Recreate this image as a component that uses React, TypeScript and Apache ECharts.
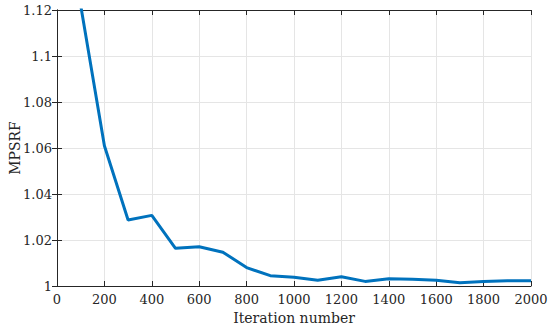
import React, { useEffect, useRef } from "react";
import * as echarts from "echarts";

const iterations = [100, 200, 300, 400, 500, 600, 700, 800, 900, 1000, 1100, 1200, 1300, 1400, 1500, 1600, 1700, 1800, 1900, 2000];
const mpsrf = [1.122, 1.061, 1.0287, 1.0307, 1.0164, 1.0171, 1.0147, 1.008, 1.0045, 1.0038, 1.0025, 1.004, 1.002, 1.0032, 1.0029, 1.0025, 1.0014, 1.002, 1.0023, 1.0023];

const xLabel = "Iteration number";
const yLabel = "MPSRF";

const FONT = "DejaVu Serif";
const AX = "#262626";

export default function App() {
  const ref = useRef<HTMLDivElement>(null);
  useEffect(() => {
    if (!ref.current) return;
    const chart = echarts.init(ref.current, null, { renderer: "svg" });
    const data = iterations.map((x, i) => [x, mpsrf[i]]);
    const axisLine = { show: true, lineStyle: { color: AX, width: 1 } };
    const tick = { show: true, inside: true, length: 5, lineStyle: { color: AX } };
    chart.setOption({
      animation: false,
      backgroundColor: "#ffffff",
      textStyle: { fontFamily: FONT },
      grid: { left: 57, right: 19, top: 10, bottom: 42, containLabel: false, outerBoundsMode: "none" },
      graphic: [
        {
          type: "text",
          x: 15,
          y: 148,
          rotation: Math.PI / 2,
          style: {
            text: yLabel,
            font: "14px DejaVu Serif",
            fill: AX,
            align: "center",
            verticalAlign: "middle",
          },
        },
      ],
      xAxis: [
        {
          type: "value",
          min: 0,
          max: 2000,
          interval: 200,
          name: xLabel,
          nameLocation: "middle",
          nameGap: 24,
          nameTextStyle: { fontFamily: FONT, fontSize: 14, color: AX },
          axisLine,
          axisTick: tick,
          axisLabel: { fontFamily: FONT, fontSize: 13, color: AX, margin: 7, formatter: (v: number) => String(v) },
          splitLine: { show: true, lineStyle: { color: "#e5e5e5", width: 1 } },
        },
        {
          type: "value",
          position: "top",
          min: 0,
          max: 2000,
          interval: 200,
          axisLine,
          axisTick: tick,
          axisLabel: { show: false },
          splitLine: { show: false },
        },
      ],
      yAxis: [
        {
          type: "value",
          min: 1,
          max: 1.12,
          interval: 0.02,
          axisLine,
          axisTick: tick,
          axisLabel: {
            fontFamily: FONT,
            fontSize: 13,
            color: AX,
            margin: 5,
            formatter: (v: number) => String(parseFloat(v.toFixed(2))),
          },
          splitLine: { show: true, lineStyle: { color: "#e5e5e5", width: 1 } },
        },
        {
          type: "value",
          position: "right",
          min: 1,
          max: 1.12,
          interval: 0.02,
          axisLine,
          axisTick: tick,
          axisLabel: { show: false },
          splitLine: { show: false },
        },
      ],
      series: [
        {
          type: "line",
          data,
          xAxisIndex: 0,
          yAxisIndex: 0,
          showSymbol: false,
          clip: true,
          lineStyle: { color: "#0072BD", width: 3 },
        },
      ],
    });
    return () => chart.dispose();
  }, []);
  return (
    <div
      ref={ref}
      style={{ position: "absolute", left: 0, top: 0, width: 550, height: 328 }}
    />
  );
}
